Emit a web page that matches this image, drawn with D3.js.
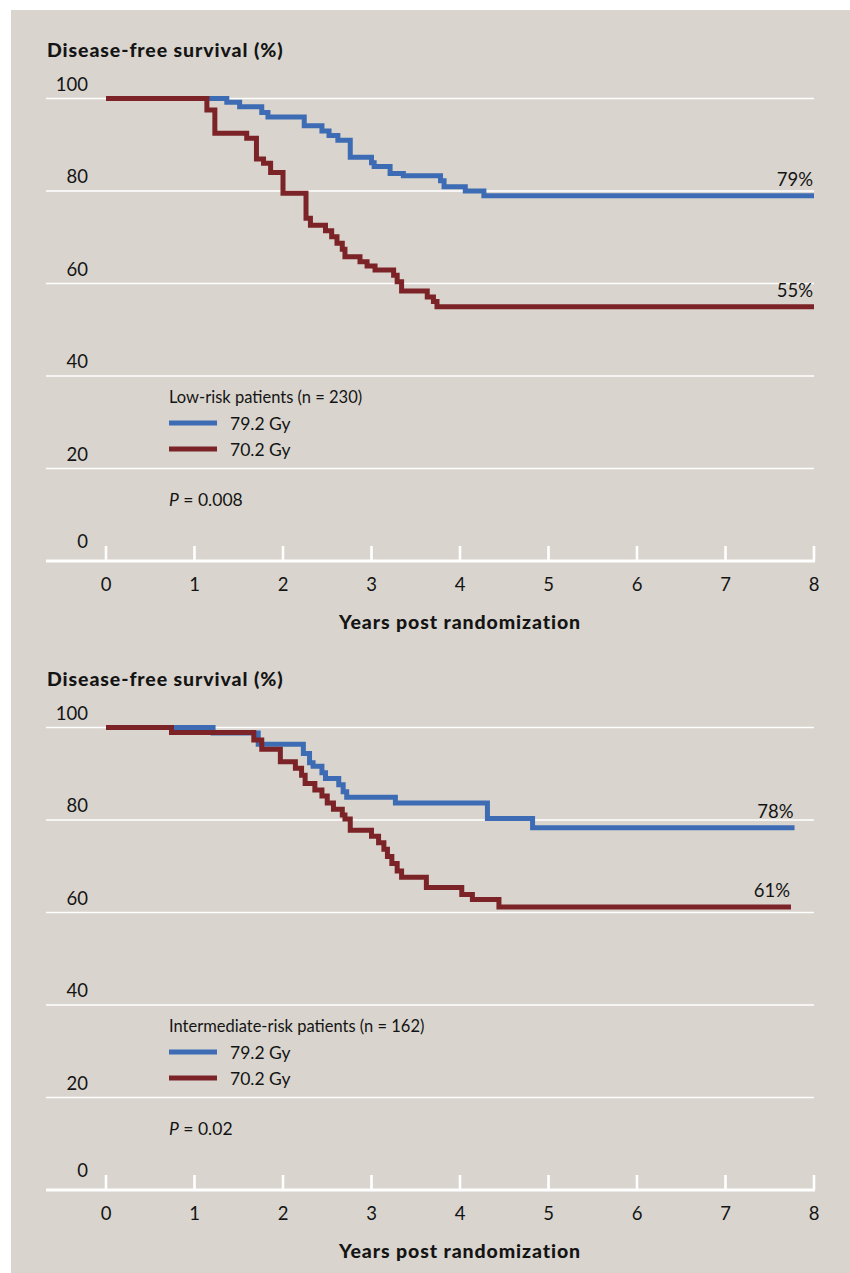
<!DOCTYPE html>
<html>
<head>
<meta charset="utf-8">
<script src="https://cdn.jsdelivr.net/npm/d3@7"></script>
<style>
  html, body { margin: 0; padding: 0; background: #fff; }
  svg { display: block; }
  text { font-family: Lato, 'Open Sans', sans-serif; fill: #141414; }
</style>
</head>
<body>
<svg id="chart" width="850" height="1273"></svg>
<script>
// axis ticks
var yearTicks = [0, 1, 2, 3, 4, 5, 6, 7, 8]
var survivalTicks = [0, 20, 40, 60, 80, 100]

var seriesNames = ['79.2 Gy', '70.2 Gy']
var groupTitles = ['Low-risk patients (n = 230)', 'Intermediate-risk patients (n = 162)']
var pValues = ['0.008', '0.02']
var endLabels = [['79%', '55%'], ['78%', '61%']]

// [year, survival %] at the start of each step
var lowRisk792 = [[0, 100], [1.365, 99.2], [1.51, 98.2], [1.76, 97.0], [1.83, 96.0], [2.24, 94.1],
  [2.44, 93.0], [2.52, 92.0], [2.62, 91.0], [2.76, 87.3], [3.00, 86.1], [3.03, 85.3],
  [3.21, 83.8], [3.36, 83.3], [3.78, 82.2], [3.82, 80.9], [4.06, 80.0], [4.27, 79.0], [8, 79.0]]
var lowRisk702 = [[0, 100], [1.14, 97.5], [1.23, 92.5], [1.59, 91.4], [1.70, 86.9], [1.78, 86.0],
  [1.86, 84.0], [2.00, 79.5], [2.26, 74.1], [2.31, 72.6], [2.48, 71.4], [2.55, 70.1], [2.61, 68.7],
  [2.67, 67.4], [2.70, 65.8], [2.87, 64.7], [2.95, 63.8], [3.04, 62.9], [3.25, 61.8], [3.29, 60.4],
  [3.34, 58.4], [3.63, 57.1], [3.70, 56.1], [3.74, 55.0], [8, 55.0]]
var midRisk792 = [[0, 100], [1.21, 98.8], [1.72, 96.4], [2.23, 94.4], [2.30, 92.4], [2.34, 91.6],
  [2.44, 90.2], [2.48, 89.0], [2.63, 87.6], [2.68, 86.1], [2.72, 84.9], [3.27, 83.7], [4.31, 80.3],
  [4.82, 78.3], [7.78, 78.3]]
var midRisk702 = [[0, 100], [0.74, 98.9], [1.67, 97.3], [1.76, 95.3], [1.97, 92.6], [2.14, 91.2],
  [2.21, 89.7], [2.25, 87.9], [2.36, 86.5], [2.44, 85.2], [2.50, 83.7], [2.57, 82.3], [2.67, 81.1],
  [2.70, 80.2], [2.76, 77.8], [3.00, 76.5], [3.08, 75.1], [3.14, 73.7], [3.18, 72.1], [3.23, 70.6],
  [3.29, 69.0], [3.34, 67.6], [3.62, 65.4], [4.02, 63.9], [4.14, 62.8], [4.44, 61.2], [7.74, 61.2]]

var colors = ['#3d6cb4', '#7b2327']

var svg = d3.select('#chart')

svg.append('rect')
  .attr('x', 11).attr('y', 10)
  .attr('width', 839).attr('height', 1263)
  .attr('fill', '#d9d5ce')

var x = d3.scaleLinear().domain([0, 8]).range([106, 814])
var y = d3.scaleLinear().domain([0, 100]).range([561, 98.5])

var line = d3.line()
  .x(function(d) { return x(d[0]) })
  .y(function(d) { return y(d[1]) })
  .curve(d3.curveStepAfter)

function drawPanel(offset, series, idx) {
  var g = svg.append('g').attr('transform', 'translate(0,' + offset + ')')

  // title
  g.append('text')
    .attr('x', 47).attr('y', 57)
    .attr('font-size', 19.5)
    .attr('font-weight', 900)
    .attr('letter-spacing', 0.9)
    .text('Disease-free survival (%)')

  // gridlines
  g.append('g')
    .selectAll('line')
    .data(survivalTicks.filter(function(d) { return d > 0 }))
    .enter().append('line')
    .attr('x1', 46).attr('x2', x(8))
    .attr('y1', function(d) { return y(d) })
    .attr('y2', function(d) { return y(d) })
    .attr('stroke', '#fff')
    .attr('stroke-width', 1.5)

  // y labels
  g.append('g')
    .selectAll('text')
    .data(survivalTicks)
    .enter().append('text')
    .attr('x', 88)
    .attr('y', function(d) { return y(d) - (d === 0 ? 13 : 8) })
    .attr('text-anchor', 'end')
    .attr('font-size', 18.5)
    .text(function(d) { return d })

  // x axis line + ticks
  g.append('line')
    .attr('x1', 46).attr('x2', x(8) + 1)
    .attr('y1', y(0)).attr('y2', y(0))
    .attr('stroke', '#fff')
    .attr('stroke-width', 3)

  g.append('g')
    .selectAll('line')
    .data(yearTicks)
    .enter().append('line')
    .attr('x1', function(d) { return x(d) })
    .attr('x2', function(d) { return x(d) })
    .attr('y1', y(0) - 15).attr('y2', y(0))
    .attr('stroke', '#fff')
    .attr('stroke-width', 2.6)

  g.append('g')
    .selectAll('text')
    .data(yearTicks)
    .enter().append('text')
    .attr('x', function(d) { return x(d) })
    .attr('y', 591)
    .attr('text-anchor', 'middle')
    .attr('font-size', 18.5)
    .text(function(d) { return d })

  g.append('text')
    .attr('x', x(4)).attr('y', 629)
    .attr('text-anchor', 'middle')
    .attr('font-size', 19.5)
    .attr('font-weight', 900)
    .attr('letter-spacing', 0.9)
    .text('Years post randomization')

  // curves
  g.append('g')
    .selectAll('path')
    .data(series)
    .enter().append('path')
    .attr('d', line)
    .attr('fill', 'none')
    .attr('stroke', function(d, i) { return colors[i] })
    .attr('stroke-width', 5)
    .attr('stroke-linejoin', 'miter')

  // end labels
  g.append('g')
    .selectAll('text')
    .data(series)
    .enter().append('text')
    .attr('x', function(d) { return x(d[d.length - 1][0]) - 1 })
    .attr('y', function(d) { return y(d[d.length - 1][1]) - 10 })
    .attr('text-anchor', 'end')
    .attr('font-size', 18.5)
    .text(function(d, i) { return endLabels[idx][i] })

  // legend
  g.append('text')
    .attr('x', 169).attr('y', 403)
    .attr('font-size', 16.5)
    .text(groupTitles[idx])

  var legend = g.append('g')
    .selectAll('g')
    .data(seriesNames)
    .enter().append('g')
    .attr('transform', function(d, i) { return 'translate(169,' + (423 + 26 * i) + ')' })

  legend.append('line')
    .attr('x1', 0).attr('x2', 48)
    .attr('stroke', function(d, i) { return colors[i] })
    .attr('stroke-width', 5)

  legend.append('text')
    .attr('x', 61).attr('y', 6.5)
    .attr('font-size', 17.5)
    .text(function(d) { return d })

  var p = g.append('text')
    .attr('x', 169).attr('y', 506)
    .attr('font-size', 17.5)
  p.append('tspan').attr('font-style', 'italic').text('P')
  p.append('tspan').text(' = ' + pValues[idx])
}

drawPanel(0, [lowRisk792, lowRisk702], 0)
drawPanel(629, [midRisk792, midRisk702], 1)
</script>
</body>
</html>
